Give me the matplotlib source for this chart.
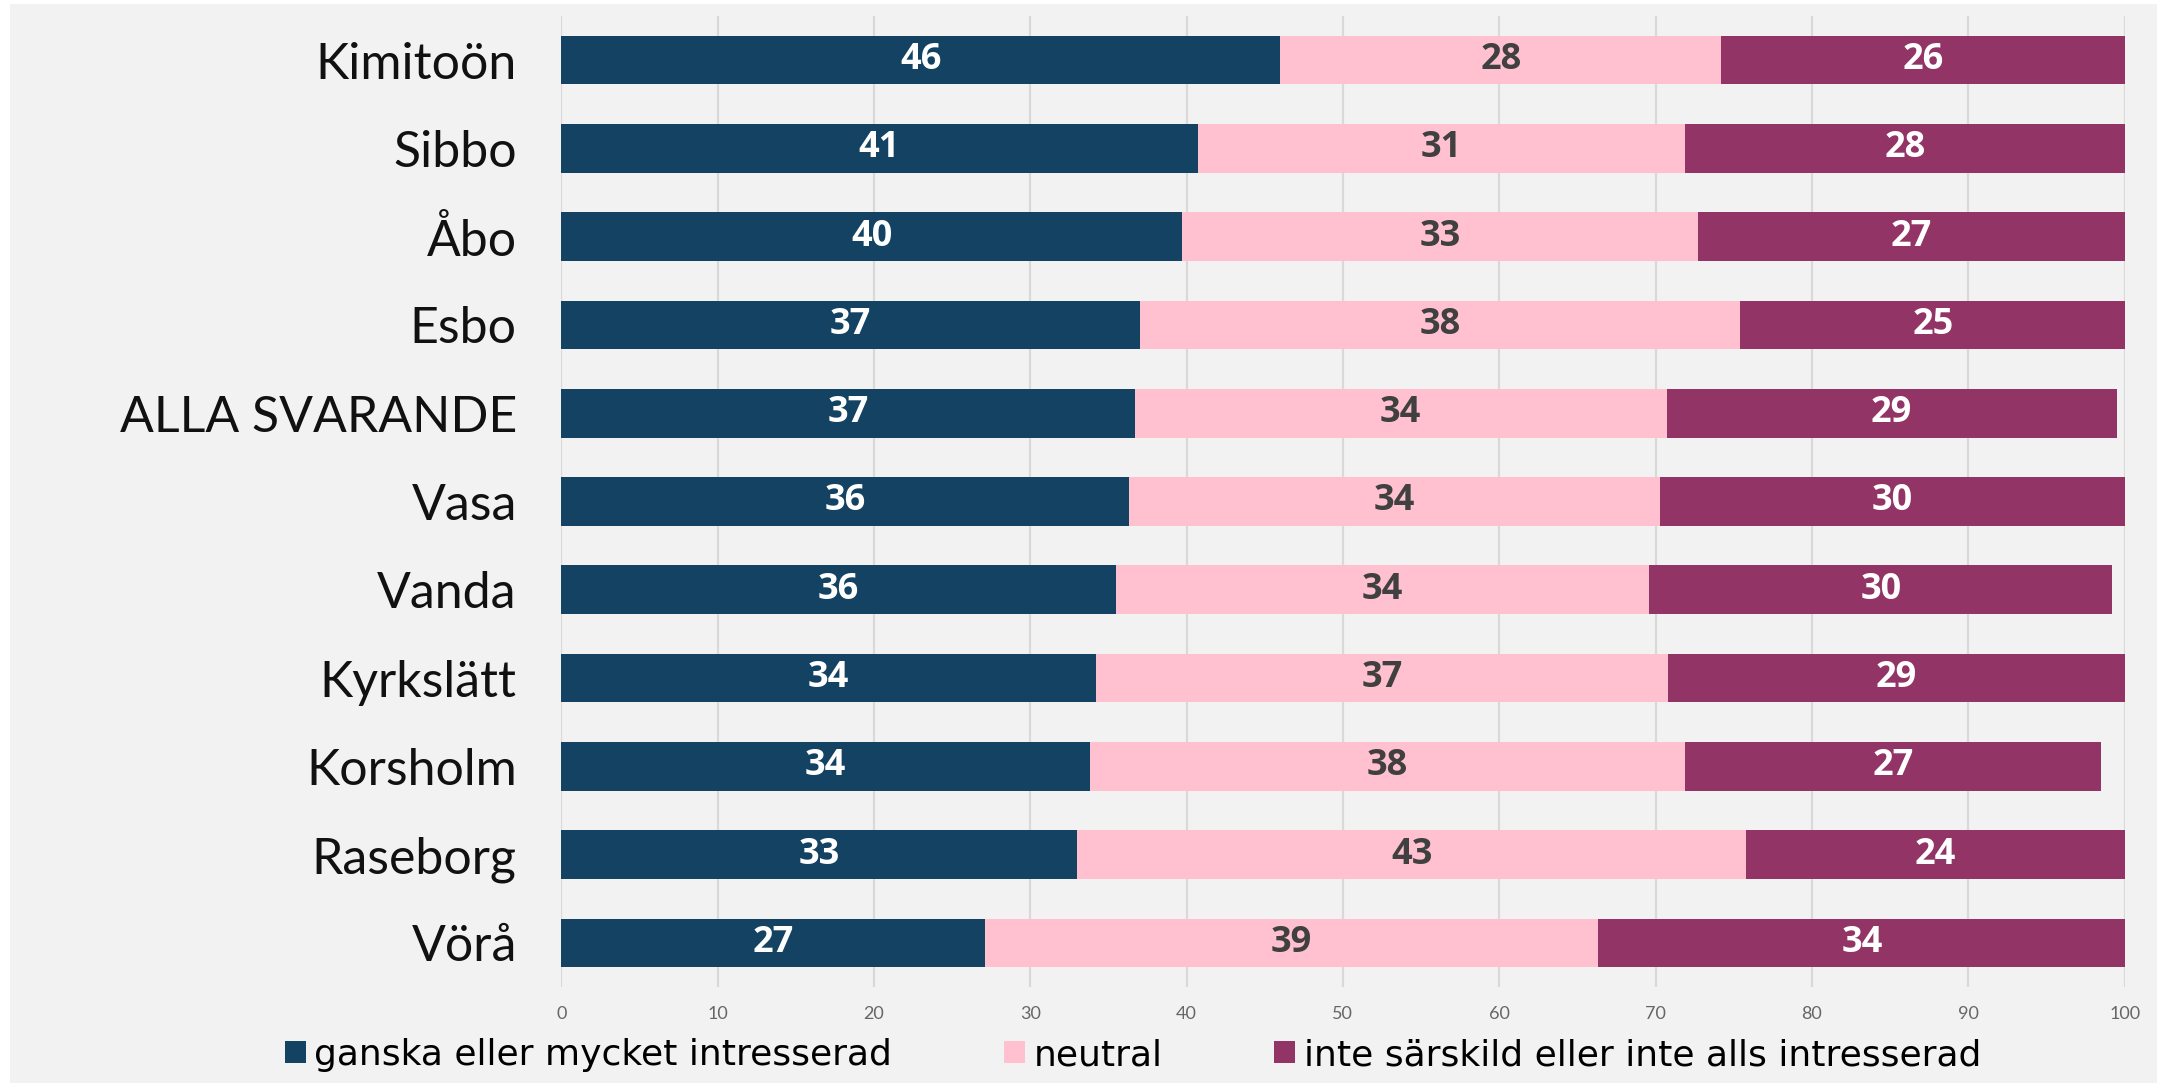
import matplotlib
matplotlib.use('Agg')
import matplotlib.pyplot as plt
from matplotlib.patches import Patch, Rectangle
import numpy as np

categories = ["Kimitoön", "Sibbo", "Åbo", "Esbo", "ALLA SVARANDE", "Vasa",
              "Vanda", "Kyrkslätt", "Korsholm", "Raseborg", "Vörå"]
interested = [46.0, 40.7, 39.7, 37.0, 36.7, 36.3, 35.5, 34.2, 33.8, 33.0, 27.1]
neutral = [28.2, 31.2, 33.0, 38.4, 34.0, 34.0, 34.1, 36.6, 38.1, 42.8, 39.2]
not_interested = [25.8, 28.1, 27.3, 24.7, 28.8, 29.7, 29.6, 29.2, 26.6, 24.2, 33.8]
series_names = ["ganska eller mycket intresserad", "neutral",
                "inte särskild eller inte alls intresserad"]
xticks = [0, 10, 20, 30, 40, 50, 60, 70, 80, 90, 100]

colors = ["#134263", "#ffc0cf", "#923466"]
label_colors = ["white", "#404040", "white"]
cat_font = "Lato"
val_font = "Open Sans"
leg_font = "DejaVu Sans"

W, H = 2157, 1087
fig = plt.figure(figsize=(W / 100, H / 100), dpi=100)
fig.patch.set_facecolor("white")
fig.add_artist(Rectangle((10 / W, 4 / H), (W - 10) / W, (H - 8) / H,
                         transform=fig.transFigure, facecolor="#f2f2f2",
                         edgecolor="none", zorder=0))

ax = fig.add_axes([561.2 / W, 1 - 987 / H, (2124.6 - 561.2) / W, (987 - 16) / H])
ax.set_facecolor("#f2f2f2")
ax.patch.set_alpha(0)

y = np.arange(len(categories))
series = [interested, neutral, not_interested]
left = np.zeros(len(categories))
for vals, col, lcol in zip(series, colors, label_colors):
    vals = np.array(vals)
    ax.barh(y, vals, left=left, height=0.55, color=col, edgecolor="none", zorder=3)
    for yi, l, v in zip(y, left, vals):
        ax.text(l + v / 2, yi, f"{int(round(v))}", ha="center", va="center",
                color=lcol, fontsize=26, fontweight="bold", family=val_font, zorder=4)
    left = left + vals

ax.set_xlim(0, 100)
ax.set_ylim(len(categories) - 0.5, -0.5)
ax.set_yticks(y)
ax.set_yticklabels(categories, fontsize=36, family=cat_font, color="#111111")
ax.set_xticks(xticks)
ax.set_xticklabels([str(t) for t in xticks], fontsize=13, family=cat_font, color="#666666")
ax.tick_params(axis="both", length=0)
ax.tick_params(axis="y", pad=32)
ax.tick_params(axis="x", pad=14)
for s in ax.spines.values():
    s.set_visible(False)
ax.set_axisbelow(True)
ax.xaxis.grid(True, color="#d9d9d9", linewidth=1.6, zorder=0)
ax.yaxis.grid(False)

handles = [Patch(facecolor=c, edgecolor="none") for c in colors]
fig.legend(handles, series_names, loc="center", bbox_to_anchor=(1133 / W, 1 - 1055 / H),
           ncol=3, frameon=False, prop={"family": leg_font, "size": 26},
           handlelength=0.58, handleheight=0.58, handletextpad=0.23, columnspacing=3.1)

fig.savefig("out.png", dpi=100, facecolor=fig.get_facecolor())
